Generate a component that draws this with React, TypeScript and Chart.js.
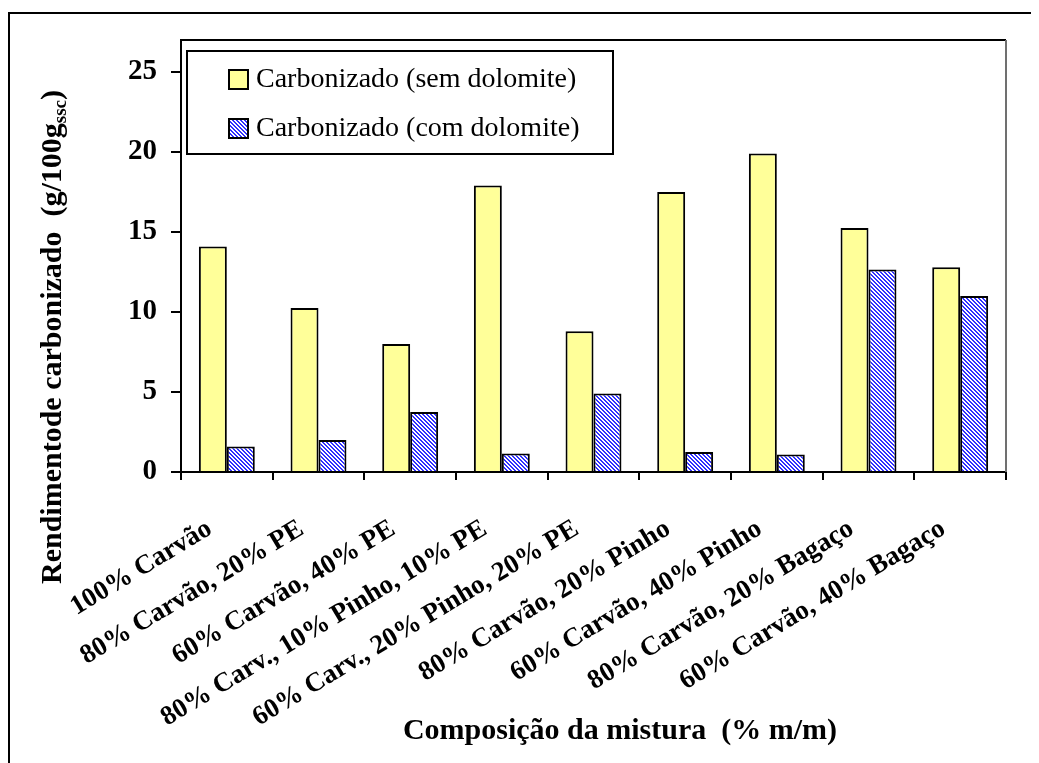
import React, { useEffect, useRef } from 'react';
import { Chart, registerables } from 'chart.js';

Chart.register(...registerables);

const categories = [
  '100% Carvão',
  '80% Carvão, 20% PE',
  '60% Carvão, 40% PE',
  '80% Carv., 10% Pinho, 10% PE',
  '60% Carv., 20% Pinho, 20% PE',
  '80% Carvão, 20% Pinho',
  '60% Carvão, 40% Pinho',
  '80% Carvão, 20% Bagaço',
  '60% Carvão, 40% Bagaço',
];
const semDolomite = [14.1, 10.25, 8.0, 17.9, 8.8, 17.5, 19.9, 15.25, 12.8];
const comDolomite = [1.6, 2.0, 3.75, 1.15, 4.9, 1.25, 1.1, 12.65, 11.0];
const legendLabels = ['Carbonizado (sem dolomite)', 'Carbonizado (com dolomite)'];
const yTitleMain = 'Rendimentode carbonizado  (g/100g';
const yTitleSub = 'ssc';
const yTitleEnd = ')';
const xTitle = 'Composição da mistura  (% m/m)';
const yMin = 0;
const yMax = 27;
const yStep = 5;

const SERIF = "'Liberation Serif', 'Times New Roman', Times, serif";
const YELLOW = '#FFFF99';

function makePattern(): CanvasPattern | string {
  const c = document.createElement('canvas');
  c.width = 4;
  c.height = 4;
  const g = c.getContext('2d');
  if (!g) return '#8080ff';
  g.fillStyle = '#ffffff';
  g.fillRect(0, 0, 4, 4);
  g.fillStyle = '#3030ff';
  for (let y = 0; y < 4; y++) {
    for (let x = 0; x < 4; x++) {
      if ((x - y + 8) % 4 < 2) g.fillRect(x, y, 1, 1);
    }
  }
  const p = g.createPattern(c, 'repeat');
  return p || '#8080ff';
}

export default function App() {
  const ref = useRef<HTMLCanvasElement>(null);

  useEffect(() => {
    document.documentElement.style.overflow = 'hidden';
    document.body.style.overflow = 'hidden';
    const canvas = ref.current;
    if (!canvas) return;
    const pattern = makePattern();

    const decor = {
      id: 'decor',
      beforeDraw(chart: any) {
        const ctx = chart.ctx;
        ctx.save();
        ctx.fillStyle = '#ffffff';
        ctx.fillRect(0, 0, chart.width, chart.height);
        ctx.strokeStyle = '#000000';
        ctx.lineWidth = 2;
        ctx.beginPath();
        ctx.moveTo(1, chart.height + 5);
        ctx.lineTo(1, 5);
        ctx.lineTo(chart.width + 5, 5);
        ctx.stroke();
        ctx.restore();
      },
      afterDraw(chart: any) {
        const ctx = chart.ctx;
        const a = chart.chartArea;
        ctx.save();
        // plot frame top and right
        ctx.lineWidth = 2;
        ctx.strokeStyle = '#000000';
        ctx.beginPath();
        ctx.moveTo(a.left, a.top);
        ctx.lineTo(a.right, a.top);
        ctx.stroke();
        ctx.strokeStyle = '#707070';
        ctx.beginPath();
        ctx.moveTo(a.right, a.top);
        ctx.lineTo(a.right, a.bottom);
        ctx.stroke();

        // legend box
        const lx = a.left + 6;
        const ly = a.top + 11;
        const lw = 426;
        const lh = 103;
        ctx.fillStyle = '#ffffff';
        ctx.fillRect(lx, ly, lw, lh);
        ctx.strokeStyle = '#000000';
        ctx.lineWidth = 2;
        ctx.strokeRect(lx, ly, lw, lh);
        const fills = [YELLOW, pattern];
        const rowsY = [ly + 28, ly + 77];
        ctx.font = `28px ${SERIF}`;
        ctx.textBaseline = 'middle';
        ctx.textAlign = 'left';
        legendLabels.forEach((t, i) => {
          const cy = rowsY[i];
          ctx.fillStyle = fills[i] as any;
          ctx.fillRect(lx + 42, cy - 9, 19, 19);
          ctx.lineWidth = 2;
          ctx.strokeStyle = '#000000';
          ctx.strokeRect(lx + 42, cy - 9, 19, 19);
          ctx.fillStyle = '#000000';
          ctx.fillText(t, lx + 69, cy + 1);
        });

        // y title
        ctx.save();
        ctx.translate(43, 329);
        ctx.rotate(-Math.PI / 2);
        const mainFont = `bold 30px ${SERIF}`;
        const subFont = `bold 19px ${SERIF}`;
        ctx.font = mainFont;
        const w1 = ctx.measureText(yTitleMain).width;
        const w3 = ctx.measureText(yTitleEnd).width;
        ctx.font = subFont;
        const w2 = ctx.measureText(yTitleSub).width;
        const total = w1 + w2 + w3;
        let x = -total / 2;
        ctx.textAlign = 'left';
        ctx.textBaseline = 'alphabetic';
        ctx.fillStyle = '#000000';
        ctx.font = mainFont;
        ctx.fillText(yTitleMain, x, 10);
        x += w1;
        ctx.font = subFont;
        ctx.fillText(yTitleSub, x, 15);
        x += w2;
        ctx.font = mainFont;
        ctx.fillText(yTitleEnd, x, 10);
        ctx.restore();

        // x title
        ctx.font = `bold 30px ${SERIF}`;
        ctx.textAlign = 'center';
        ctx.textBaseline = 'middle';
        ctx.fillStyle = '#000000';
        ctx.fillText(xTitle, 612, 723);
        ctx.restore();
      },
    };

    const chart = new Chart(canvas, {
      type: 'bar',
      data: {
        labels: categories,
        datasets: [
          {
            label: legendLabels[0],
            data: semDolomite,
            backgroundColor: YELLOW,
            borderColor: '#000000',
            borderWidth: 2,
            categoryPercentage: 0.61,
            barPercentage: 1.0,
          },
          {
            label: legendLabels[1],
            data: comDolomite,
            backgroundColor: pattern as any,
            borderColor: '#000000',
            borderWidth: 2,
            categoryPercentage: 0.61,
            barPercentage: 1.0,
          },
        ],
      },
      options: {
        responsive: false,
        animation: false,
        devicePixelRatio: 1,
        layout: { padding: { left: 0, top: 32, right: 33, bottom: 0 } },
        plugins: {
          legend: { display: false },
          title: { display: false },
          tooltip: { enabled: false },
        },
        scales: {
          x: {
            afterFit: (s: any) => {
              s.height = 291;
            },
            grid: {
              display: true,
              offset: true,
              drawOnChartArea: false,
              drawTicks: true,
              tickLength: 8,
              color: '#000000',
              lineWidth: 2,
            },
            border: { display: true, color: '#000000', width: 2 },
            ticks: {
              minRotation: 31,
              maxRotation: 31,
              autoSkip: false,
              padding: 33,
              labelOffset: -17,
              color: '#000000',
              font: { family: SERIF, size: 27, weight: 'bold' },
            },
          },
          y: {
            min: yMin,
            max: yMax,
            afterFit: (s: any) => {
              s.width = 173;
            },
            grid: {
              display: true,
              drawOnChartArea: false,
              drawTicks: true,
              tickLength: 10,
              color: '#000000',
              lineWidth: 2,
            },
            border: { display: true, color: '#000000', width: 2 },
            ticks: {
              stepSize: yStep,
              includeBounds: false,
              padding: 14,
              color: '#000000',
              font: { family: SERIF, size: 29, weight: 'bold' },
            } as any,
          },
        },
      },
      plugins: [decor],
    });

    return () => {
      chart.destroy();
    };
  }, []);

  return (
    <div style={{ width: 1031, height: 755 }}>
      <canvas ref={ref} width={1031} height={755} style={{ display: 'block', width: 1031, height: 755 }} />
    </div>
  );
}
